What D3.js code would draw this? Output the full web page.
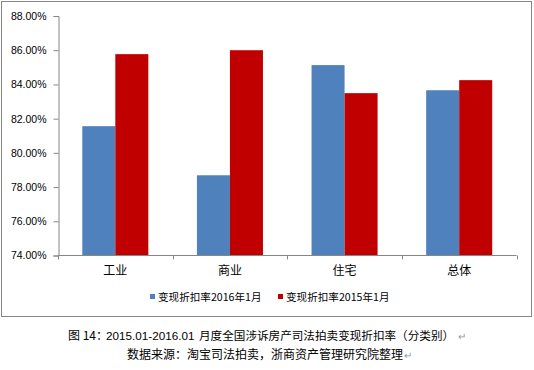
<!DOCTYPE html>
<html><head><meta charset="utf-8">
<script src="https://cdn.jsdelivr.net/npm/d3@7"></script>
<style>body{margin:0;background:#fff}svg{display:block}</style>
</head><body>
<svg id="c" width="534" height="370"></svg>
<script>
const categories = ["工业","商业","住宅","总体"];
const seriesNames = ["变现折扣率2016年1月","变现折扣率2015年1月"];
const values2016 = [0.8156, 0.7869, 0.8513, 0.8366];
const values2015 = [0.8577, 0.8600, 0.8349, 0.8425];
const yTicks = [0.74,0.76,0.78,0.80,0.82,0.84,0.86,0.88];
const colors = ["#4F81BD","#C00000"];
const caption1Parts = ["图 14：","2015.01-2016.01","月度全国涉诉房产司法拍卖变现折扣率（分类别）"];
const caption2 = "数据来源：淘宝司法拍卖，浙商资产管理研究院整理";

const svg = d3.select("#c");
const axisColor = "#868686";
const cjk = "'Noto Sans CJK SC', sans-serif";
const latin = "'Liberation Sans', Arial, sans-serif";

svg.append("rect").attr("x",1.5).attr("y",1.5).attr("width",530).attr("height",315)
  .attr("fill","#fff").attr("stroke",axisColor).attr("stroke-width",1);

const x0 = d3.scaleBand().domain(categories).range([58, 516.5]).padding(0);
const x1 = d3.scaleBand().domain(seriesNames).range([0, x0.bandwidth()]).paddingInner(0).paddingOuter(0.736);
const y = d3.scaleLinear().domain([0.74,0.88]).range([255.5,16]);

const data = categories.map((c,i)=>({cat:c, vals:[values2016[i], values2015[i]]}));
const g = svg.append("g");
data.forEach(d=>{
  d.vals.forEach((v,j)=>{
    g.append("rect")
      .attr("x", x0(d.cat)+x1(seriesNames[j]))
      .attr("y", y(v))
      .attr("width", x1.bandwidth())
      .attr("height", y(0.74)-y(v))
      .attr("fill", colors[j]);
  });
});

// Y axis
const yAxis = svg.append("g").attr("transform","translate(58.5,0)")
  .call(d3.axisLeft(y).tickValues(yTicks).tickFormat(d3.format(".2%")).tickSizeOuter(0).tickSize(5));
yAxis.select(".domain").attr("stroke",axisColor);
yAxis.selectAll(".tick line").attr("stroke",axisColor);
yAxis.selectAll(".tick text").attr("fill","#000").attr("x",-12)
  .style("font-family",latin).style("font-size","10.5px");

// X axis
const xAxis = svg.append("g").attr("transform","translate(0,255.5)");
xAxis.append("line").attr("x1",58).attr("x2",516.5).attr("y1",0).attr("y2",0).attr("stroke",axisColor);
const bounds = categories.map(c=>x0(c)).concat([x0(categories[categories.length-1])+x0.bandwidth()]);
bounds.forEach(b=>{
  xAxis.append("line").attr("x1",Math.round(b)+0.5).attr("x2",Math.round(b)+0.5).attr("y1",0).attr("y2",4).attr("stroke",axisColor);
});
categories.forEach(c=>{
  svg.append("text").attr("x",x0(c)+x0.bandwidth()/2).attr("y",275)
    .attr("text-anchor","middle").style("font-family",cjk).style("font-size","12px").attr("fill","#000").text(c);
});

// Legend
const legendX = [150, 278];
seriesNames.forEach((s,j)=>{
  svg.append("rect").attr("x",legendX[j]).attr("y",294).attr("width",5).attr("height",5).attr("fill",colors[j]);
  svg.append("text").attr("x",legendX[j]+8).attr("y",300.5)
    .style("font-family",cjk).style("font-size","10.6px").attr("fill","#000").text(s);
});

// Captions
const c1 = svg.append("text").attr("y",340).attr("fill","#000");
c1.append("tspan").attr("x",68).style("font-family",cjk).style("font-size","12px").text(caption1Parts[0]);
c1.append("tspan").attr("x",106).style("font-family",latin).style("font-size","11.7px").text(caption1Parts[1]);
c1.append("tspan").attr("x",199).style("font-family",cjk).style("font-size","11.6px").text(caption1Parts[2]);
svg.append("text").attr("x",458).attr("y",340)
  .style("font-family",cjk).style("font-size","10px").attr("fill","#999").text("↵");

svg.append("text").attr("x",127).attr("y",359)
  .style("font-family",cjk).style("font-size","12px").attr("fill","#000").text(caption2);
svg.append("text").attr("x",404).attr("y",359)
  .style("font-family",cjk).style("font-size","10px").attr("fill","#999").text("↵");
</script>
</body></html>
